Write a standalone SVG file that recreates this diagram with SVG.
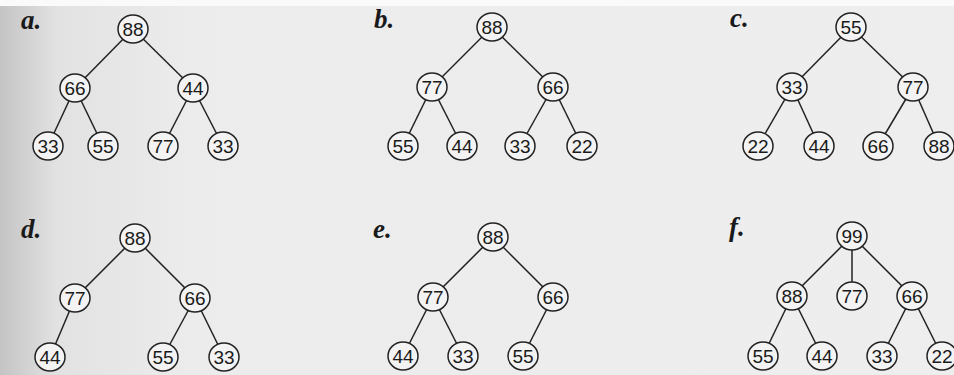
<svg xmlns="http://www.w3.org/2000/svg" width="954" height="375" viewBox="0 0 954 375">
<defs>
<linearGradient id="bg" x1="0" y1="0" x2="1" y2="0">
<stop offset="0" stop-color="#c4c4c4"/>
<stop offset="0.06" stop-color="#e2e2e2"/>
<stop offset="0.2" stop-color="#ececec"/>
<stop offset="1" stop-color="#eeeeee"/>
</linearGradient>
</defs>
<style>
.n ellipse{fill:#f3f3f3;stroke:#222;stroke-width:1.5}
.n text{font-family:"Liberation Sans",Arial,sans-serif;font-size:19px;fill:#1a1a1a;text-anchor:middle}
.e line{stroke:#222;stroke-width:1.5}
.lbl{font-family:"Liberation Serif","Times New Roman",serif;font-size:27px;font-weight:bold;font-style:italic;fill:#1a1a1a}
</style>
<rect width="954" height="375" fill="url(#bg)"/>
<rect x="0" y="0" width="954" height="6" fill="#fafafa"/>

<g class="lbl-group">
<text class="lbl" x="21" y="29">a.</text>
<text class="lbl" x="374" y="28">b.</text>
<text class="lbl" x="730" y="27">c.</text>
<text class="lbl" x="21" y="238">d.</text>
<text class="lbl" x="373" y="238">e.</text>
<text class="lbl" x="729" y="236">f.</text>
</g>

<g id="connectors" class="e">
<line x1="133" y1="29" x2="75" y2="88"/><line x1="133" y1="29" x2="193" y2="88"/>
<line x1="75" y1="88" x2="48" y2="146"/><line x1="75" y1="88" x2="103" y2="146"/>
<line x1="193" y1="88" x2="163" y2="146"/><line x1="193" y1="88" x2="223" y2="146"/>

<line x1="492" y1="27" x2="432" y2="87"/><line x1="492" y1="27" x2="553" y2="87"/>
<line x1="432" y1="87" x2="403" y2="146"/><line x1="432" y1="87" x2="462" y2="146"/>
<line x1="553" y1="87" x2="520" y2="146"/><line x1="553" y1="87" x2="582" y2="146"/>

<line x1="851" y1="27" x2="792" y2="87"/><line x1="851" y1="27" x2="913" y2="87"/>
<line x1="792" y1="87" x2="758" y2="146"/><line x1="792" y1="87" x2="819" y2="146"/>
<line x1="913" y1="87" x2="878" y2="146"/><line x1="913" y1="87" x2="939" y2="146"/>

<line x1="135" y1="238" x2="75" y2="298"/><line x1="135" y1="238" x2="195" y2="298"/>
<line x1="75" y1="298" x2="50" y2="357"/>
<line x1="195" y1="298" x2="163" y2="357"/><line x1="195" y1="298" x2="224" y2="357"/>

<line x1="493" y1="237" x2="433" y2="297"/><line x1="493" y1="237" x2="553" y2="297"/>
<line x1="433" y1="297" x2="403" y2="356"/><line x1="433" y1="297" x2="463" y2="356"/>
<line x1="553" y1="297" x2="523" y2="356"/>

<line x1="852" y1="236" x2="792" y2="296"/><line x1="852" y1="236" x2="852" y2="296"/><line x1="852" y1="236" x2="912" y2="296"/>
<line x1="792" y1="296" x2="763" y2="356"/><line x1="792" y1="296" x2="822" y2="356"/>
<line x1="912" y1="296" x2="882" y2="356"/><line x1="912" y1="296" x2="942" y2="356"/>
</g>

<!-- Tree a -->
<g id="a-88" class="n"><ellipse cx="133" cy="29" rx="15" ry="14"/><text x="133" y="35.5">88</text></g>
<g id="a-66" class="n"><ellipse cx="75" cy="88" rx="15" ry="14"/><text x="75" y="94.5">66</text></g>
<g id="a-44" class="n"><ellipse cx="193" cy="88" rx="15" ry="14"/><text x="193" y="94.5">44</text></g>
<g id="a-33a" class="n"><ellipse cx="48" cy="146" rx="15" ry="14"/><text x="48" y="152.5">33</text></g>
<g id="a-55" class="n"><ellipse cx="103" cy="146" rx="15" ry="14"/><text x="103" y="152.5">55</text></g>
<g id="a-77" class="n"><ellipse cx="163" cy="146" rx="15" ry="14"/><text x="163" y="152.5">77</text></g>
<g id="a-33b" class="n"><ellipse cx="223" cy="146" rx="15" ry="14"/><text x="223" y="152.5">33</text></g>

<!-- Tree b -->
<g id="b-88" class="n"><ellipse cx="492" cy="27" rx="15" ry="14"/><text x="492" y="33.5">88</text></g>
<g id="b-77" class="n"><ellipse cx="432" cy="87" rx="15" ry="14"/><text x="432" y="93.5">77</text></g>
<g id="b-66" class="n"><ellipse cx="553" cy="87" rx="15" ry="14"/><text x="553" y="93.5">66</text></g>
<g id="b-55" class="n"><ellipse cx="403" cy="146" rx="15" ry="14"/><text x="403" y="152.5">55</text></g>
<g id="b-44" class="n"><ellipse cx="462" cy="146" rx="15" ry="14"/><text x="462" y="152.5">44</text></g>
<g id="b-33" class="n"><ellipse cx="520" cy="146" rx="15" ry="14"/><text x="520" y="152.5">33</text></g>
<g id="b-22" class="n"><ellipse cx="582" cy="146" rx="15" ry="14"/><text x="582" y="152.5">22</text></g>

<!-- Tree c -->
<g id="c-55" class="n"><ellipse cx="851" cy="27" rx="15" ry="14"/><text x="851" y="33.5">55</text></g>
<g id="c-33" class="n"><ellipse cx="792" cy="87" rx="15" ry="14"/><text x="792" y="93.5">33</text></g>
<g id="c-77" class="n"><ellipse cx="913" cy="87" rx="15" ry="14"/><text x="913" y="93.5">77</text></g>
<g id="c-22" class="n"><ellipse cx="758" cy="146" rx="15" ry="14"/><text x="758" y="152.5">22</text></g>
<g id="c-44" class="n"><ellipse cx="819" cy="146" rx="15" ry="14"/><text x="819" y="152.5">44</text></g>
<g id="c-66" class="n"><ellipse cx="878" cy="146" rx="15" ry="14"/><text x="878" y="152.5">66</text></g>
<g id="c-88" class="n"><ellipse cx="939" cy="146" rx="15" ry="14"/><text x="939" y="152.5">88</text></g>

<!-- Tree d -->
<g id="d-88" class="n"><ellipse cx="135" cy="238" rx="15" ry="14"/><text x="135" y="244.5">88</text></g>
<g id="d-77" class="n"><ellipse cx="75" cy="298" rx="15" ry="14"/><text x="75" y="304.5">77</text></g>
<g id="d-66" class="n"><ellipse cx="195" cy="298" rx="15" ry="14"/><text x="195" y="304.5">66</text></g>
<g id="d-44" class="n"><ellipse cx="50" cy="357" rx="15" ry="14"/><text x="50" y="363.5">44</text></g>
<g id="d-55" class="n"><ellipse cx="163" cy="357" rx="15" ry="14"/><text x="163" y="363.5">55</text></g>
<g id="d-33" class="n"><ellipse cx="224" cy="357" rx="15" ry="14"/><text x="224" y="363.5">33</text></g>

<!-- Tree e -->
<g id="e-88" class="n"><ellipse cx="493" cy="237" rx="15" ry="14"/><text x="493" y="243.5">88</text></g>
<g id="e-77" class="n"><ellipse cx="433" cy="297" rx="15" ry="14"/><text x="433" y="303.5">77</text></g>
<g id="e-66" class="n"><ellipse cx="553" cy="297" rx="15" ry="14"/><text x="553" y="303.5">66</text></g>
<g id="e-44" class="n"><ellipse cx="403" cy="356" rx="15" ry="14"/><text x="403" y="362.5">44</text></g>
<g id="e-33" class="n"><ellipse cx="463" cy="356" rx="15" ry="14"/><text x="463" y="362.5">33</text></g>
<g id="e-55" class="n"><ellipse cx="523" cy="356" rx="15" ry="14"/><text x="523" y="362.5">55</text></g>

<!-- Tree f -->
<g id="f-99" class="n"><ellipse cx="852" cy="236" rx="15" ry="14"/><text x="852" y="242.5">99</text></g>
<g id="f-88" class="n"><ellipse cx="792" cy="296" rx="15" ry="14"/><text x="792" y="302.5">88</text></g>
<g id="f-77" class="n"><ellipse cx="852" cy="296" rx="15" ry="14"/><text x="852" y="302.5">77</text></g>
<g id="f-66" class="n"><ellipse cx="912" cy="296" rx="15" ry="14"/><text x="912" y="302.5">66</text></g>
<g id="f-55" class="n"><ellipse cx="763" cy="356" rx="15" ry="14"/><text x="763" y="362.5">55</text></g>
<g id="f-44" class="n"><ellipse cx="822" cy="356" rx="15" ry="14"/><text x="822" y="362.5">44</text></g>
<g id="f-33" class="n"><ellipse cx="882" cy="356" rx="15" ry="14"/><text x="882" y="362.5">33</text></g>
<g id="f-22" class="n"><ellipse cx="942" cy="356" rx="15" ry="14"/><text x="942" y="362.5">22</text></g>
</svg>
